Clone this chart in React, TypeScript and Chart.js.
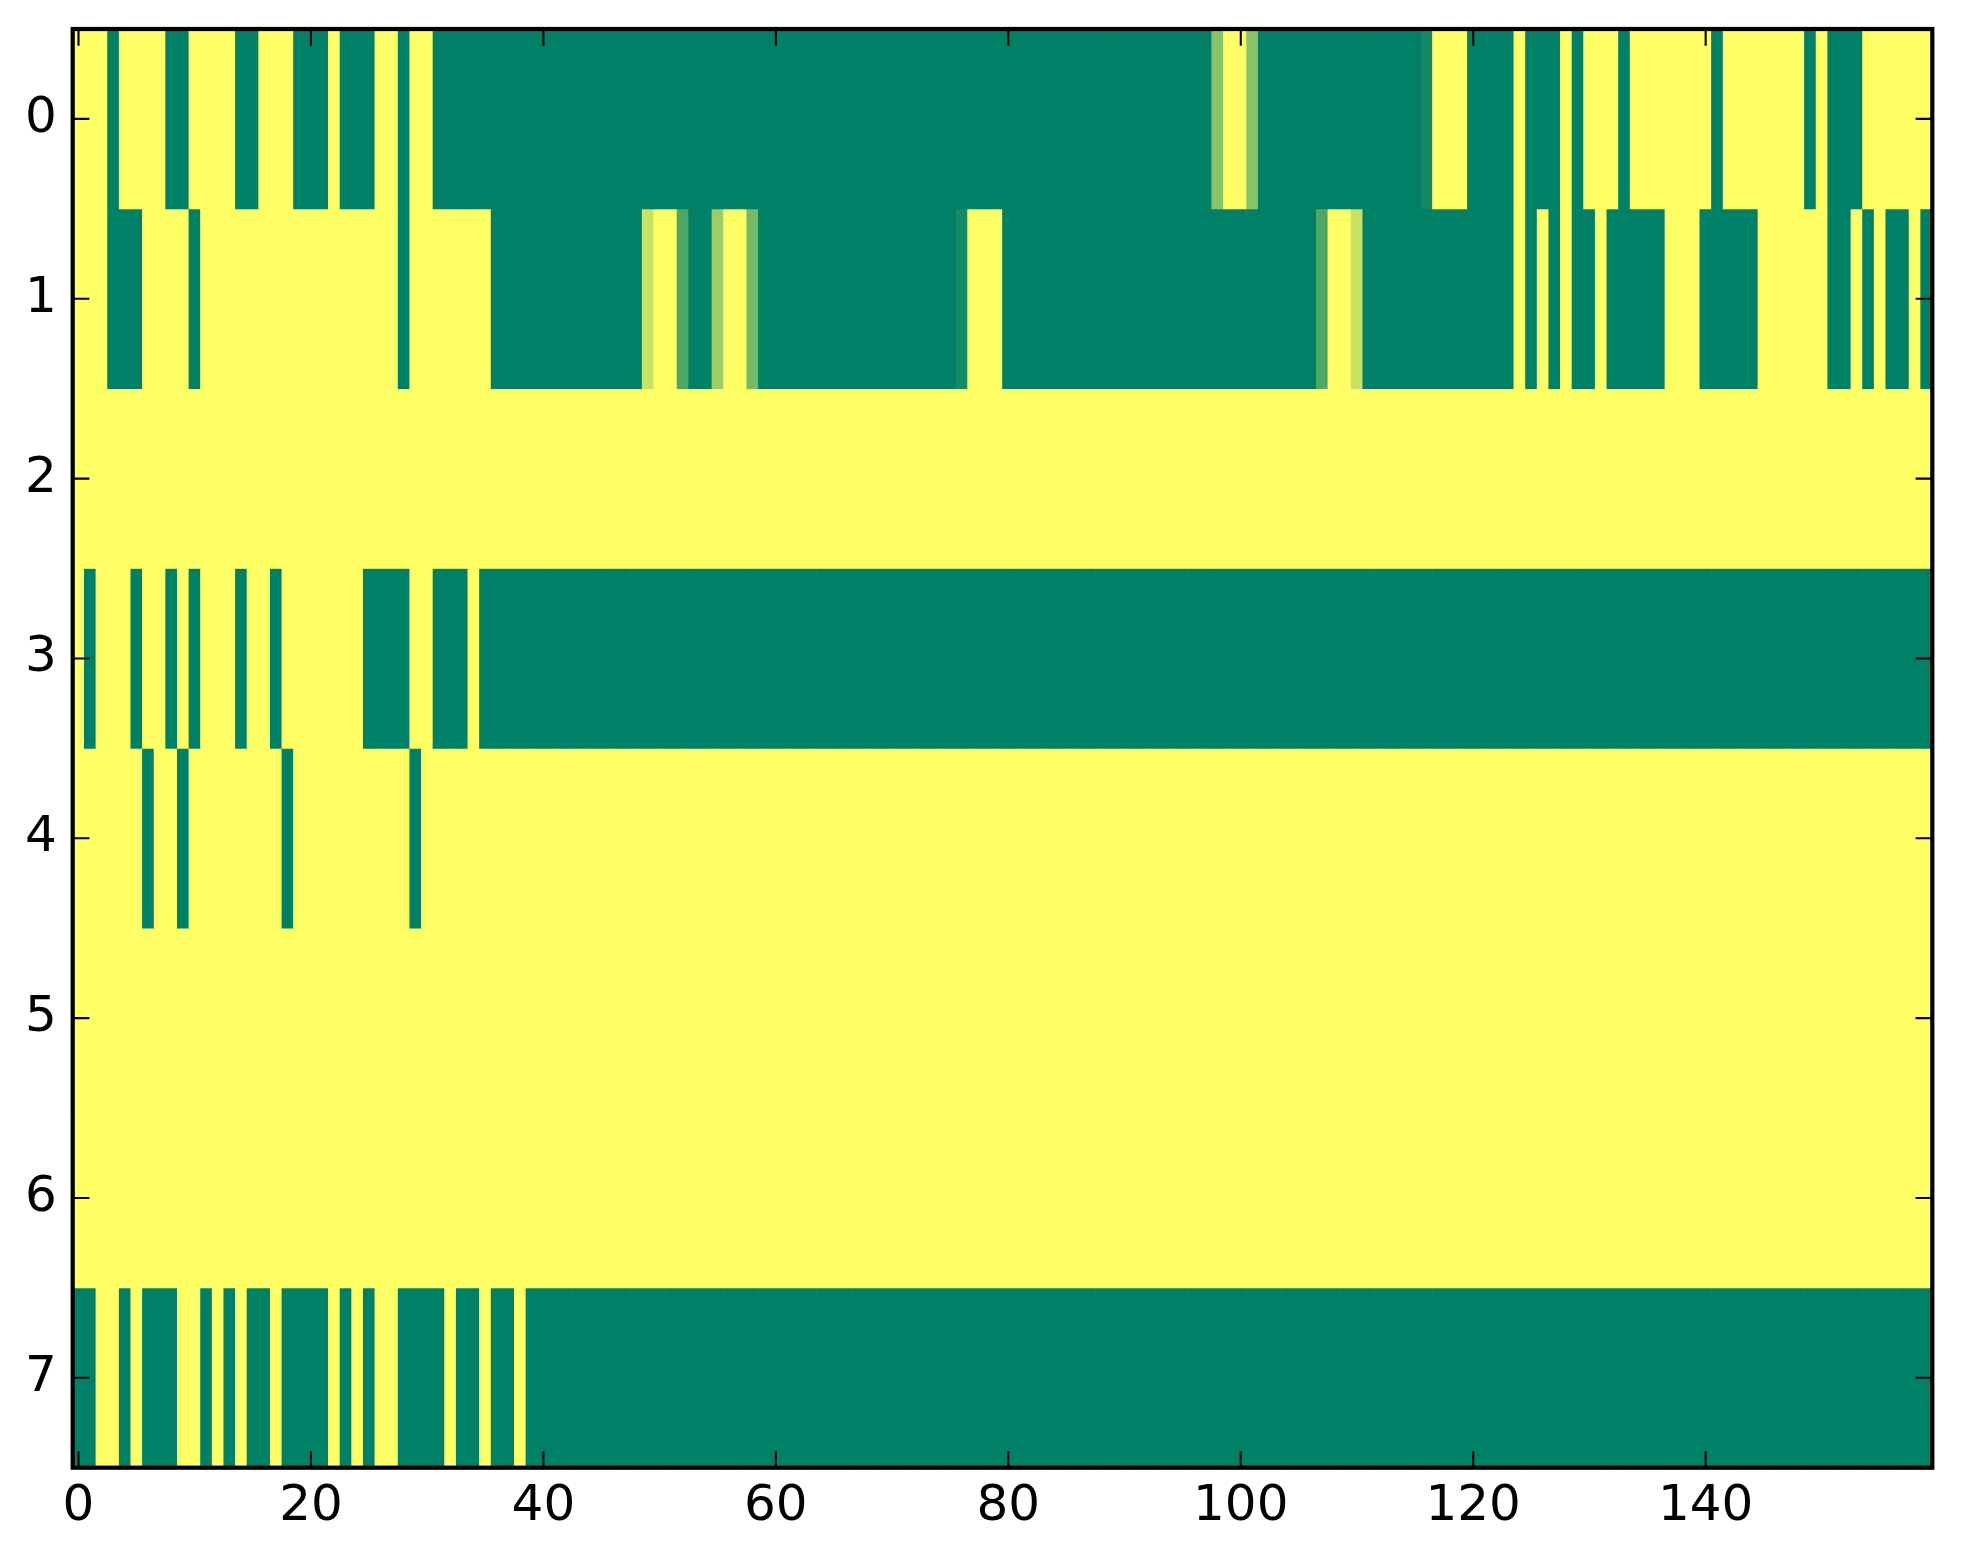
import React, { useEffect, useRef } from "react";
import { Chart, registerables } from "chart.js";

Chart.register(...registerables);

// tick positions and labels
const xTickValues = [0, 20, 40, 60, 80, 100, 120, 140];
const xTickLabels = ["0", "20", "40", "60", "80", "100", "120", "140"];
const yTickValues = [0, 1, 2, 3, 4, 5, 6, 7];
const yTickLabels = ["0", "1", "2", "3", "4", "5", "6", "7"];

// cell values, 160 columns per row (0 = dark green, 1 = yellow)
const row0 = [
  1, 1, 1, 0, 1, 1, 1, 1, 0, 0, 1, 1, 1, 1, 0, 0, 1, 1, 1, 0,
  0, 0, 1, 0, 0, 0, 1, 1, 0, 1, 1, 0, 0, 0, 0, 0, 0, 0, 0, 0,
  0, 0, 0, 0, 0, 0, 0, 0, 0, 0, 0, 0, 0, 0, 0, 0, 0, 0, 0, 0,
  0, 0, 0, 0, 0, 0, 0, 0, 0, 0, 0, 0, 0, 0, 0, 0, 0, 0, 0, 0,
  0, 0, 0, 0, 0, 0, 0, 0, 0, 0, 0, 0, 0, 0, 0, 0, 0, 0, 0.54, 1,
  1, 0.54, 0, 0, 0, 0, 0, 0, 0, 0, 0, 0, 0, 0, 0, 0, 0.07, 1, 1, 1,
  0, 0, 0, 0, 1, 0, 0, 0, 1, 0, 1, 1, 1, 0, 1, 1, 1, 1, 1, 1,
  1, 0, 1, 1, 1, 1, 1, 1, 1, 0, 1, 0, 0, 0, 1, 1, 1, 1, 1, 1,
];
const row1 = [
  1, 1, 1, 0, 0, 0, 1, 1, 1, 1, 0, 1, 1, 1, 1, 1, 1, 1, 1, 1,
  1, 1, 1, 1, 1, 1, 1, 1, 0, 1, 1, 1, 1, 1, 1, 1, 0, 0, 0, 0,
  0, 0, 0, 0, 0, 0, 0, 0, 0, 0.78, 1, 1, 0.31, 0, 0, 0.61, 1, 1, 0.46, 0,
  0, 0, 0, 0, 0, 0, 0, 0, 0, 0, 0, 0, 0, 0, 0, 0, 0.08, 1, 1, 1,
  0, 0, 0, 0, 0, 0, 0, 0, 0, 0, 0, 0, 0, 0, 0, 0, 0, 0, 0, 0,
  0, 0, 0, 0, 0, 0, 0, 0.31, 1, 1, 0.78, 0, 0, 0, 0, 0, 0, 0, 0, 0,
  0, 0, 0, 0, 1, 0, 1, 0, 1, 0, 0, 1, 0, 0, 0, 0, 0, 1, 1, 1,
  0, 0, 0, 0, 0, 1, 1, 1, 1, 1, 1, 0, 0, 1, 0, 1, 0, 0, 1, 0,
];
const row2 = [
  1, 1, 1, 1, 1, 1, 1, 1, 1, 1, 1, 1, 1, 1, 1, 1, 1, 1, 1, 1,
  1, 1, 1, 1, 1, 1, 1, 1, 1, 1, 1, 1, 1, 1, 1, 1, 1, 1, 1, 1,
  1, 1, 1, 1, 1, 1, 1, 1, 1, 1, 1, 1, 1, 1, 1, 1, 1, 1, 1, 1,
  1, 1, 1, 1, 1, 1, 1, 1, 1, 1, 1, 1, 1, 1, 1, 1, 1, 1, 1, 1,
  1, 1, 1, 1, 1, 1, 1, 1, 1, 1, 1, 1, 1, 1, 1, 1, 1, 1, 1, 1,
  1, 1, 1, 1, 1, 1, 1, 1, 1, 1, 1, 1, 1, 1, 1, 1, 1, 1, 1, 1,
  1, 1, 1, 1, 1, 1, 1, 1, 1, 1, 1, 1, 1, 1, 1, 1, 1, 1, 1, 1,
  1, 1, 1, 1, 1, 1, 1, 1, 1, 1, 1, 1, 1, 1, 1, 1, 1, 1, 1, 1,
];
const row3 = [
  1, 0, 1, 1, 1, 0, 1, 1, 0, 1, 0, 1, 1, 1, 0, 1, 1, 0, 1, 1,
  1, 1, 1, 1, 1, 0, 0, 0, 0, 1, 1, 0, 0, 0, 1, 0, 0, 0, 0, 0,
  0, 0, 0, 0, 0, 0, 0, 0, 0, 0, 0, 0, 0, 0, 0, 0, 0, 0, 0, 0,
  0, 0, 0, 0, 0, 0, 0, 0, 0, 0, 0, 0, 0, 0, 0, 0, 0, 0, 0, 0,
  0, 0, 0, 0, 0, 0, 0, 0, 0, 0, 0, 0, 0, 0, 0, 0, 0, 0, 0, 0,
  0, 0, 0, 0, 0, 0, 0, 0, 0, 0, 0, 0, 0, 0, 0, 0, 0, 0, 0, 0,
  0, 0, 0, 0, 0, 0, 0, 0, 0, 0, 0, 0, 0, 0, 0, 0, 0, 0, 0, 0,
  0, 0, 0, 0, 0, 0, 0, 0, 0, 0, 0, 0, 0, 0, 0, 0, 0, 0, 0, 0,
];
const row4 = [
  1, 1, 1, 1, 1, 1, 0, 1, 1, 0, 1, 1, 1, 1, 1, 1, 1, 1, 0, 1,
  1, 1, 1, 1, 1, 1, 1, 1, 1, 0, 1, 1, 1, 1, 1, 1, 1, 1, 1, 1,
  1, 1, 1, 1, 1, 1, 1, 1, 1, 1, 1, 1, 1, 1, 1, 1, 1, 1, 1, 1,
  1, 1, 1, 1, 1, 1, 1, 1, 1, 1, 1, 1, 1, 1, 1, 1, 1, 1, 1, 1,
  1, 1, 1, 1, 1, 1, 1, 1, 1, 1, 1, 1, 1, 1, 1, 1, 1, 1, 1, 1,
  1, 1, 1, 1, 1, 1, 1, 1, 1, 1, 1, 1, 1, 1, 1, 1, 1, 1, 1, 1,
  1, 1, 1, 1, 1, 1, 1, 1, 1, 1, 1, 1, 1, 1, 1, 1, 1, 1, 1, 1,
  1, 1, 1, 1, 1, 1, 1, 1, 1, 1, 1, 1, 1, 1, 1, 1, 1, 1, 1, 1,
];
const row5 = [
  1, 1, 1, 1, 1, 1, 1, 1, 1, 1, 1, 1, 1, 1, 1, 1, 1, 1, 1, 1,
  1, 1, 1, 1, 1, 1, 1, 1, 1, 1, 1, 1, 1, 1, 1, 1, 1, 1, 1, 1,
  1, 1, 1, 1, 1, 1, 1, 1, 1, 1, 1, 1, 1, 1, 1, 1, 1, 1, 1, 1,
  1, 1, 1, 1, 1, 1, 1, 1, 1, 1, 1, 1, 1, 1, 1, 1, 1, 1, 1, 1,
  1, 1, 1, 1, 1, 1, 1, 1, 1, 1, 1, 1, 1, 1, 1, 1, 1, 1, 1, 1,
  1, 1, 1, 1, 1, 1, 1, 1, 1, 1, 1, 1, 1, 1, 1, 1, 1, 1, 1, 1,
  1, 1, 1, 1, 1, 1, 1, 1, 1, 1, 1, 1, 1, 1, 1, 1, 1, 1, 1, 1,
  1, 1, 1, 1, 1, 1, 1, 1, 1, 1, 1, 1, 1, 1, 1, 1, 1, 1, 1, 1,
];
const row6 = [
  1, 1, 1, 1, 1, 1, 1, 1, 1, 1, 1, 1, 1, 1, 1, 1, 1, 1, 1, 1,
  1, 1, 1, 1, 1, 1, 1, 1, 1, 1, 1, 1, 1, 1, 1, 1, 1, 1, 1, 1,
  1, 1, 1, 1, 1, 1, 1, 1, 1, 1, 1, 1, 1, 1, 1, 1, 1, 1, 1, 1,
  1, 1, 1, 1, 1, 1, 1, 1, 1, 1, 1, 1, 1, 1, 1, 1, 1, 1, 1, 1,
  1, 1, 1, 1, 1, 1, 1, 1, 1, 1, 1, 1, 1, 1, 1, 1, 1, 1, 1, 1,
  1, 1, 1, 1, 1, 1, 1, 1, 1, 1, 1, 1, 1, 1, 1, 1, 1, 1, 1, 1,
  1, 1, 1, 1, 1, 1, 1, 1, 1, 1, 1, 1, 1, 1, 1, 1, 1, 1, 1, 1,
  1, 1, 1, 1, 1, 1, 1, 1, 1, 1, 1, 1, 1, 1, 1, 1, 1, 1, 1, 1,
];
const row7 = [
  0, 0, 1, 1, 0, 1, 0, 0, 0, 1, 1, 0, 1, 0, 1, 0, 0, 1, 0, 0,
  0, 0, 1, 0, 1, 0, 1, 1, 0, 0, 0, 0, 1, 0, 0, 1, 0, 0, 1, 0,
  0, 0, 0, 0, 0, 0, 0, 0, 0, 0, 0, 0, 0, 0, 0, 0, 0, 0, 0, 0,
  0, 0, 0, 0, 0, 0, 0, 0, 0, 0, 0, 0, 0, 0, 0, 0, 0, 0, 0, 0,
  0, 0, 0, 0, 0, 0, 0, 0, 0, 0, 0, 0, 0, 0, 0, 0, 0, 0, 0, 0,
  0, 0, 0, 0, 0, 0, 0, 0, 0, 0, 0, 0, 0, 0, 0, 0, 0, 0, 0, 0,
  0, 0, 0, 0, 0, 0, 0, 0, 0, 0, 0, 0, 0, 0, 0, 0, 0, 0, 0, 0,
  0, 0, 0, 0, 0, 0, 0, 0, 0, 0, 0, 0, 0, 0, 0, 0, 0, 0, 0, 0,
];

const rows = [row0, row1, row2, row3, row4, row5, row6, row7];

// matplotlib "summer" colormap
const summer = (v: number) =>
  `rgb(${Math.round(255 * v)}, ${Math.round(255 * (0.5 + 0.5 * v))}, 102)`;

const TICK_LEN = 16.7;

// spines + inward ticks on all four sides, like matplotlib classic
const framePlugin = {
  id: "frame",
  afterDatasetsDraw(chart: any) {
    const { ctx, chartArea: a, scales } = chart;
    ctx.save();
    ctx.strokeStyle = "#000";
    ctx.lineWidth = 2.1;
    ctx.beginPath();
    xTickValues.forEach((v) => {
      const px = scales.x.getPixelForValue(v);
      ctx.moveTo(px, a.bottom);
      ctx.lineTo(px, a.bottom - TICK_LEN);
      ctx.moveTo(px, a.top);
      ctx.lineTo(px, a.top + TICK_LEN);
    });
    yTickValues.forEach((v) => {
      const py = scales.y.getPixelForValue(v);
      ctx.moveTo(a.left, py);
      ctx.lineTo(a.left + TICK_LEN, py);
      ctx.moveTo(a.right, py);
      ctx.lineTo(a.right - TICK_LEN, py);
    });
    ctx.stroke();
    ctx.lineWidth = 4.2;
    ctx.strokeRect(a.left, a.top, a.right - a.left, a.bottom - a.top);
    ctx.restore();
  },
};

const HeatmapChart = () => {
  const chartRef = useRef<HTMLCanvasElement>(null);
  const chartInstance = useRef<Chart | null>(null);

  useEffect(() => {
    if (chartInstance.current) {
      chartInstance.current.destroy();
    }

    const datasets = rows.map((row, r) => ({
      label: yTickLabels[r],
      data: row.map((_, c) => ({ x: c, y: [r - 0.5, r + 0.5] })),
      backgroundColor: row.map((v) => summer(v)),
      borderWidth: 0,
      grouped: false,
      barPercentage: 1,
      categoryPercentage: 1,
    }));

    const xFont = { family: "'DejaVu Sans', sans-serif", size: 50 };
    // lineHeight 1 keeps the y scale's auto padding below the top margin
    const yFont = { family: "'DejaVu Sans', sans-serif", size: 50, lineHeight: 1 };

    const ctx = chartRef.current!.getContext("2d")!;
    chartInstance.current = new Chart(ctx, {
      type: "bar",
      data: { datasets: datasets as any },
      options: {
        responsive: false,
        animation: false,
        layout: {
          autoPadding: false,
          padding: { top: 29, right: 30.7, left: 0, bottom: 0 },
        },
        plugins: {
          legend: { display: false },
          tooltip: { enabled: false },
        },
        scales: {
          x: {
            type: "linear",
            min: -0.5,
            max: 159.5,
            offset: false,
            grid: { display: false, drawTicks: false, offset: false },
            border: { display: false },
            ticks: {
              font: xFont,
              color: "#000",
              padding: 9,
              maxRotation: 0,
              autoSkip: false,
              callback: (_v: any, i: number) => xTickLabels[i],
            },
            afterBuildTicks: (s: any) => {
              s.ticks = xTickValues.map((value) => ({ value }));
            },
            afterFit: (s: any) => {
              s.height = 96.3;
            },
          },
          y: {
            type: "linear",
            reverse: true,
            min: -0.5,
            max: 7.5,
            grid: { display: false, drawTicks: true, tickLength: 16 },
            border: { display: false },
            ticks: {
              font: yFont,
              color: "#000",
              padding: 0,
              autoSkip: false,
              callback: (_v: any, i: number) => yTickLabels[i],
            },
            afterBuildTicks: (s: any) => {
              s.ticks = yTickValues.map((value) => ({ value }));
            },
            afterFit: (s: any) => {
              s.width = 72.7;
            },
          },
        },
      } as any,
      plugins: [framePlugin],
    });

    return () => {
      if (chartInstance.current) {
        chartInstance.current.destroy();
        chartInstance.current = null;
      }
    };
  }, []);

  return <canvas ref={chartRef} width={1963} height={1564} style={{ display: "block" }} />;
};

export default function App() {
  return (
    <div style={{ position: "absolute", left: 0, top: 0, width: 1963, height: 1564, background: "#fff" }}>
      <HeatmapChart />
    </div>
  );
}
